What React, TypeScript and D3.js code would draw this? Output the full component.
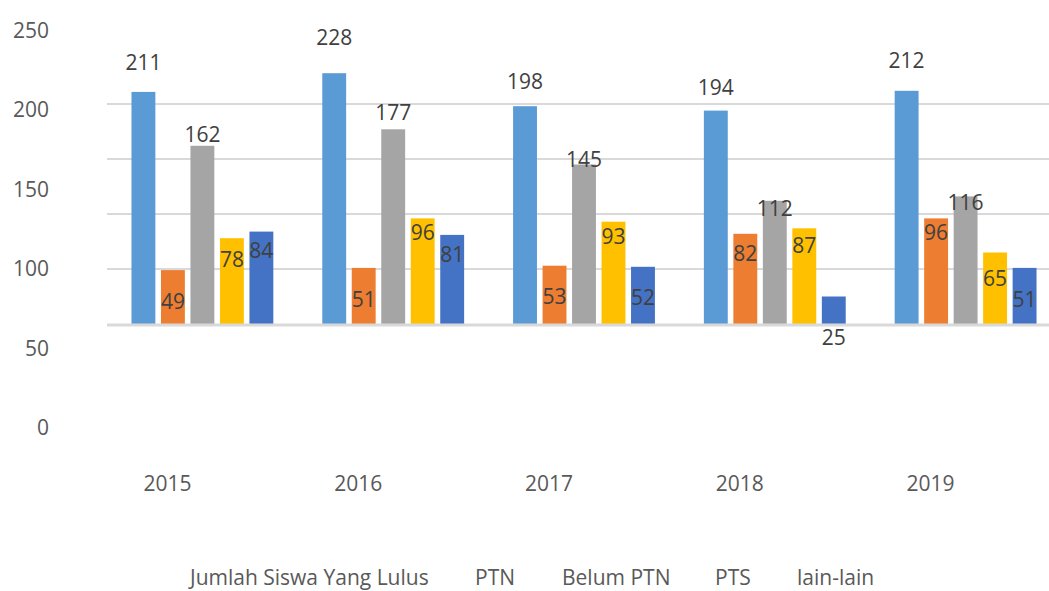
import React, { useEffect, useRef } from 'react';
import * as d3 from 'd3';

// tahun kelulusan
const years = ['2015', '2016', '2017', '2018', '2019'];

// nilai tiap seri
const lulus = [211, 228, 198, 194, 212];
const ptn = [49, 51, 53, 82, 96];
const belumPtn = [162, 177, 145, 112, 116];
const pts = [78, 96, 93, 87, 65];
const lainLain = [84, 81, 52, 25, 51];

const seriesNames = ['Jumlah Siswa Yang Lulus', 'PTN', 'Belum PTN', 'PTS', 'lain-lain'];
const seriesColors = ['#5B9BD5', '#ED7D31', '#A5A5A5', '#FFC000', '#4472C4'];

// label sumbu Y
const yTickLabels = [0, 50, 100, 150, 200, 250];
const gridValues = [50, 100, 150, 200];

const App: React.FC = () => {
    const svgRef = useRef<SVGSVGElement>(null);

    useEffect(() => {
        if (!svgRef.current) return;

        const svg = d3.select(svgRef.current);
        svg.selectAll('*').remove();

        const width = 1049;
        const height = 591;
        const font = '"Open Sans", "Liberation Sans", sans-serif';
        const fontSize = '21px';

        const values = [lulus, ptn, belumPtn, pts, lainLain];

        // skala batang
        const x = d3.scaleBand<string>()
            .domain(years)
            .range([107, 1061])
            .paddingInner(0)
            .paddingOuter(0);

        const xInner = d3.scaleBand<string>()
            .domain(seriesNames)
            .range([0, x.bandwidth()])
            .paddingInner(0.19)
            .paddingOuter(0.83);

        const y = d3.scaleLinear()
            .domain([0, 200])
            .range([324, 104]);

        // skala label sumbu (tergeser seperti pada gambar)
        const yAxisLabel = d3.scaleLinear()
            .domain([0, 250])
            .range([427, 30]);

        // skala label data
        const yDataLabel = d3.scaleLinear()
            .domain([0, 250])
            .range([374, 4]);

        svg.append('rect')
            .attr('width', width)
            .attr('height', height)
            .attr('fill', '#ffffff');

        // garis grid
        gridValues.forEach(v => {
            svg.append('line')
                .attr('x1', 107)
                .attr('x2', width)
                .attr('y1', y(v))
                .attr('y2', y(v))
                .attr('stroke', '#D9D9D9')
                .attr('stroke-width', 1.8);
        });

        // batang
        years.forEach((yr, i) => {
            seriesNames.forEach((name, s) => {
                const v = values[s][i];
                svg.append('rect')
                    .attr('x', (x(yr) ?? 0) + (xInner(name) ?? 0))
                    .attr('y', y(v))
                    .attr('width', xInner.bandwidth())
                    .attr('height', y(0) - y(v))
                    .attr('fill', seriesColors[s]);
            });
        });

        // garis dasar
        svg.append('line')
            .attr('x1', 107)
            .attr('x2', width)
            .attr('y1', y(0) + 1)
            .attr('y2', y(0) + 1)
            .attr('stroke', '#D9D9D9')
            .attr('stroke-width', 3);

        // label data
        years.forEach((yr, i) => {
            seriesNames.forEach((name, s) => {
                const v = values[s][i];
                svg.append('text')
                    .attr('x', (x(yr) ?? 0) + (xInner(name) ?? 0) + xInner.bandwidth() / 2)
                    .attr('y', yDataLabel(v))
                    .attr('text-anchor', 'middle')
                    .attr('dominant-baseline', 'central')
                    .attr('font-family', font)
                    .attr('font-size', fontSize)
                    .attr('fill', '#404040')
                    .text(v);
            });
        });

        // label sumbu Y
        yTickLabels.forEach(t => {
            svg.append('text')
                .attr('x', 49)
                .attr('y', yAxisLabel(t))
                .attr('text-anchor', 'end')
                .attr('dominant-baseline', 'central')
                .attr('font-family', font)
                .attr('font-size', fontSize)
                .attr('fill', '#595959')
                .text(t);
        });

        // label sumbu X
        years.forEach(yr => {
            svg.append('text')
                .attr('x', (x(yr) ?? 0) + x.bandwidth() / 2 - 35)
                .attr('y', 483)
                .attr('text-anchor', 'middle')
                .attr('dominant-baseline', 'central')
                .attr('font-family', font)
                .attr('font-size', fontSize)
                .attr('fill', '#595959')
                .text(yr);
        });

        // legenda (hanya teks)
        const legendX = [190, 475, 562, 715, 797];
        seriesNames.forEach((name, s) => {
            svg.append('text')
                .attr('x', legendX[s])
                .attr('y', 585)
                .attr('font-family', font)
                .attr('font-size', fontSize)
                .attr('fill', '#595959')
                .text(name);
        });
    }, []);

    return (
        <svg
            ref={svgRef}
            width="1049"
            height="591"
            style={{ position: 'absolute', left: 0, top: 0, display: 'block' }}
        ></svg>
    );
};

export default App;
